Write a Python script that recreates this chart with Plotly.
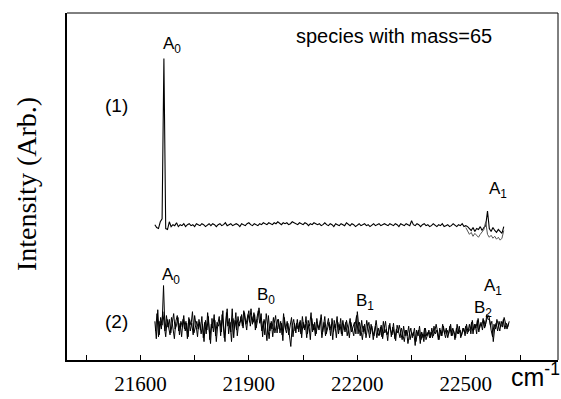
import plotly.graph_objects as go

# ---- spectral data -------------------------------------------------------
# Trace (1): scan starting at 21640 cm-1, 5 cm-1 steps
trace1_start = 21640
trace1_step = 5
trace1_values = [
    140, 137, 136, 143, 146, 312, 136, 135,
    143, 138, 140, 139, 142, 138, 140, 139, 141, 138, 140, 141, 139, 140, 138, 141, 140, 139, 141, 140, 138, 140, 141,
    139, 141, 140, 138, 140, 141, 139, 140, 142, 139, 140, 141, 139, 140, 141, 140, 138, 141, 140, 139, 141, 142, 140, 139, 141, 140, 139, 141, 140, 142,
    141, 140, 142, 141, 140, 142, 141, 143, 141, 140, 142, 141, 142, 140, 141, 143, 142, 141, 140, 142, 141, 140, 142, 141, 139, 141, 140, 142, 141, 140,
    141, 139, 140, 142, 140, 139, 141, 140, 138, 141, 140, 139, 141, 140, 139, 142, 140, 139, 141, 140, 138, 140, 141, 139, 140, 141, 139, 140, 138, 140,
    141, 139, 140, 141, 139, 140, 141, 140, 139, 141, 140, 139, 141, 140, 138, 141, 140, 139, 141, 140, 139, 144, 140, 139, 141, 140, 138, 140, 141, 139,
    140, 138, 139, 141, 139, 138, 140, 139, 141, 138, 139, 140, 138, 139, 141, 139, 138, 140, 139, 141, 138, 139, 138,
    136, 134, 137, 133, 136, 135, 138, 134, 137, 139, 154, 136, 133, 137, 134, 132, 135, 133, 131, 138,
]
# Repeat scan of (1) over the high-frequency end
trace1b_start = 22500
trace1b_values = [137, 133, 130, 132, 128, 131, 129, 127, 130, 132, 135,
                  143, 130, 127, 129, 126, 128, 125, 127, 124, 126, 134]

# Trace (2): two interleaved scans, 4 cm-1 steps
trace2_step = 4
trace2a_start = 21640
trace2a_values = [
    40, 22, 52, 26, 44, 36,
    77,
    30, 46, 34,
    42, 28, 38, 48, 32, 36, 44, 26, 40, 34,
    46, 30, 38, 24, 42, 36, 50, 28, 34, 40, 32,
    39, 27, 37, 19, 41, 31, 45, 21, 37, 33, 47, 25, 39, 35,
    41, 29, 51, 23, 37, 53, 27, 39, 19, 43, 33, 49, 25, 39,
    39, 47, 33, 49, 37, 43, 51, 35, 45, 39, 47, 33, 41,
    54,
    44, 30, 40, 26, 48, 34, 22, 38, 32, 44, 28, 36, 42,
    32, 40, 26, 48, 34, 28, 38, 22, 14, 36, 42, 30, 38, 32,
    39, 27, 45, 33, 37, 23, 41, 35, 49, 29, 37, 25, 43, 33,
    37, 47, 29, 39, 25, 35, 43, 31, 37, 21, 41, 33, 45, 27,
    37, 27, 41, 31, 39, 25, 35, 43, 29, 33, 39, 27,
    50,
    35, 25, 41, 29, 37, 23, 33, 39, 27, 35, 21, 31, 41, 29, 25,
    34, 24, 40, 28, 32, 20, 36, 30, 26, 38, 22, 32, 28, 36,
    29, 21, 35, 25, 31, 17, 27, 33, 23, 29, 15, 31, 25, 35, 21, 27, 19, 33, 25, 29, 23,
    29, 23, 35, 27, 31, 21, 33, 25, 37, 29, 23, 31, 27, 35, 25, 33, 29, 23, 37, 27, 31, 25, 33, 29, 35, 27, 31,
    31, 39, 27, 37, 33, 41, 29, 37, 35, 43, 33, 39, 45,
    46,
    36, 40, 19, 33,
    38, 30, 40, 34, 36, 42, 32, 38, 34, 40,
]
trace2b_start = 21642
trace2b_values = [
    30, 48, 24, 40, 32, 50,
    36, 24, 42, 32,
    26, 44, 34, 22, 40, 46, 30, 38, 24, 42,
    32, 40, 22, 44, 30, 38, 26, 46, 36, 24, 42,
    31, 45, 23, 39, 27, 49, 35, 17, 43, 29, 41, 19, 37, 45,
    25, 47, 33, 19, 49, 35, 43, 29, 53, 23, 41, 31, 45, 35,
    45, 35, 51, 41, 31, 47, 39, 53, 37, 49, 31, 43, 51,
    38, 48, 24, 42, 34, 20, 46, 30, 40, 24, 38, 46, 28,
    42, 28, 38, 20, 44, 32, 40, 26, 34, 44, 24, 38, 28, 42,
    29, 41, 23, 39, 31, 45, 27, 37, 21, 43, 31, 39, 27, 37,
    31, 41, 23, 37, 45, 27, 33, 39, 25, 43, 29, 37, 23, 39,
    31, 43, 25, 37, 29, 41, 33, 23, 39, 31, 25, 37,
    46,
    27, 39, 31, 21, 35, 27, 41, 29, 23, 37, 31, 25, 35, 23, 33,
    26, 36, 22, 32, 40, 26, 30, 38, 24, 34, 28, 20, 36, 30,
    23, 33, 27, 19, 31, 25, 35, 21, 29, 25, 33, 19, 27, 31, 17, 29, 23, 33, 21, 27, 31,
    23, 33, 25, 29, 37, 27, 21, 31, 25, 35, 27, 33, 23, 29, 37, 25, 31, 21, 33, 27, 35, 23, 29, 33, 25, 37, 29,
    37, 27, 41, 31, 37, 27, 43, 33, 39, 31, 41, 35, 47,
    42,
    41, 31, 24, 37,
    32, 42, 36, 30, 40, 34, 44, 36, 32, 38,
]

tick_values = [21600, 21900, 22200, 22500]
tick_labels = ["21600", "21900", "22200", "22500"]
minor_tick_values = [21450, 21750, 22050, 22350, 22650]

# peak labels: (text, left edge px, centre px)
peak_labels = [
    ("A<sub>0</sub>", 161, 46),
    ("A<sub>1</sub>", 487, 196),
    ("A<sub>0</sub>", 160, 285),
    ("B<sub>0</sub>", 255, 306),
    ("B<sub>1</sub>", 354, 312),
    ("A<sub>1</sub>", 482, 296),
    ("B<sub>2</sub>", 472, 319),
]

# ---- figure geometry -----------------------------------------------------
W, H = 561, 399
ML, MR, MT, MB = 67, 3, 13, 27
PW, PH = W - ML - MR, H - MT - MB


def px_x(px):
    return (px - ML) / PW


def px_y(py):
    return (H - MB - py) / PH


def wn(start, step, n):
    return [start + step * i for i in range(n)]


fig = go.Figure()
fig.add_trace(go.Scatter(
    x=wn(trace1_start, trace1_step, len(trace1_values)), y=trace1_values,
    mode="lines", line=dict(color="black", width=1.1), showlegend=False))
fig.add_trace(go.Scatter(
    x=wn(trace1b_start, trace1_step, len(trace1b_values)), y=trace1b_values,
    mode="lines", line=dict(color="#555555", width=1), showlegend=False))
fig.add_trace(go.Scatter(
    x=wn(trace2a_start, trace2_step, len(trace2a_values)), y=trace2a_values,
    mode="lines", line=dict(color="black", width=1), showlegend=False))
fig.add_trace(go.Scatter(
    x=wn(trace2b_start, trace2_step, len(trace2b_values)), y=trace2b_values,
    mode="lines", line=dict(color="black", width=1), showlegend=False))

sans = "Liberation Sans"
serif = "Liberation Serif"

annotations = []
for text, lx, cy in peak_labels:
    annotations.append(dict(text=text, x=px_x(lx), y=px_y(cy), xref="paper", yref="paper",
                            xanchor="left", yanchor="middle", showarrow=False,
                            font=dict(family=sans, size=17, color="black")))
annotations += [
    dict(text="species with mass=65", x=px_x(394), y=px_y(37), xref="paper", yref="paper",
         xanchor="center", yanchor="middle", showarrow=False,
         font=dict(family=sans, size=20, color="black")),
    dict(text="(1)", x=px_x(116), y=px_y(109), xref="paper", yref="paper",
         xanchor="center", yanchor="middle", showarrow=False,
         font=dict(family=sans, size=19, color="black")),
    dict(text="(2)", x=px_x(116), y=px_y(332), xref="paper", yref="paper",
         xanchor="center", yanchor="middle", showarrow=False,
         font=dict(family=sans, size=19, color="black")),
    dict(text="Intensity (Arb.)", x=px_x(26), y=px_y(190), xref="paper", yref="paper",
         xanchor="center", yanchor="middle", showarrow=False, textangle=-90,
         font=dict(family=serif, size=28, color="black")),
    dict(text="cm<sup>-1</sup>", x=px_x(535), y=px_y(388), xref="paper", yref="paper",
         xanchor="center", yanchor="middle", showarrow=False,
         font=dict(family=sans, size=25, color="black")),
]

fig.update_layout(
    width=W, height=H,
    margin=dict(l=ML, r=MR, t=MT, b=MB),
    paper_bgcolor="white", plot_bgcolor="white",
    annotations=annotations,
    shapes=[
        dict(type="line", xref="paper", yref="paper", x0=0, x1=1, y0=1, y1=1,
             line=dict(color="black", width=1)),
        dict(type="line", xref="paper", yref="paper", x0=1, x1=1, y0=0, y1=1,
             line=dict(color="black", width=1)),
    ],
)
fig.update_xaxes(
    range=[21397, 22755], showgrid=False, zeroline=False,
    showline=True, linecolor="black", linewidth=2,
    tickmode="array", tickvals=tick_values, ticktext=tick_labels,
    ticks="inside", ticklen=5, tickwidth=1, tickcolor="black",
    ticklabelstandoff=4,
    minor=dict(tickmode="array", tickvals=minor_tick_values,
               ticks="inside", ticklen=5, tickwidth=1, tickcolor="black"),
    tickfont=dict(family=serif, size=21, color="black"),
)
fig.update_yaxes(
    range=[0, PH], showgrid=False, zeroline=False, showticklabels=False,
    showline=True, linecolor="black", linewidth=2, ticks="",
)

fig.write_html("out.html")
